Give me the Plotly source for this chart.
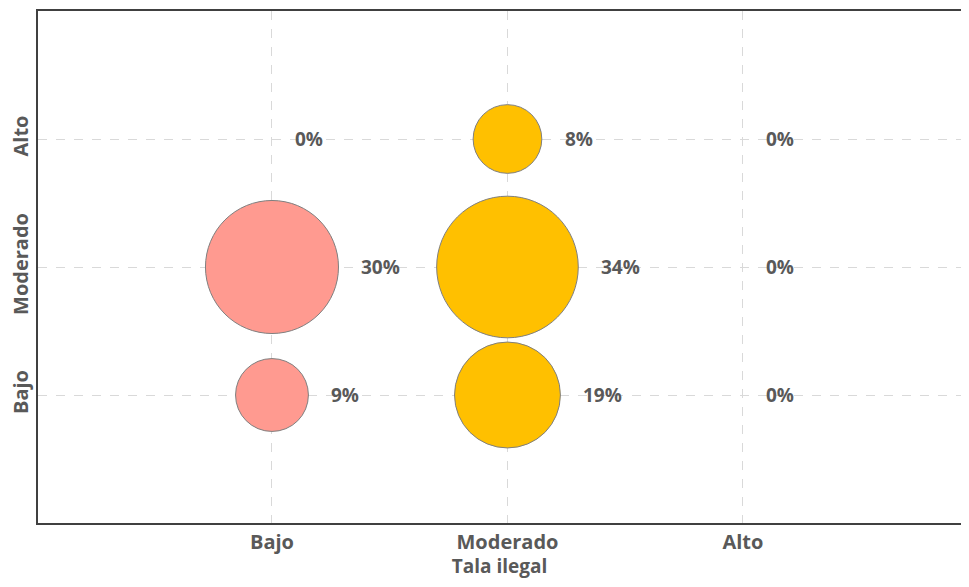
import plotly.graph_objects as go
import math

niveles = ["Bajo", "Moderado", "Alto"]
# tala ilegal (x) vs nivel (y), porcentaje
tala_x = [1, 1, 1, 2, 2, 2, 3, 3, 3]
nivel_y = [1, 2, 3, 1, 2, 3, 1, 2, 3]
porcentaje = [9, 30, 0, 19, 34, 8, 0, 0, 0]
colores = ["#FF9A90", "#FF9A90", "#FF9A90",
           "#FFC000", "#FFC000", "#FFC000",
           "#FFC000", "#FFC000", "#FFC000"]

sizeref = 0.00339
gris = "#595959"
fuente = "Open Sans"

fig = go.Figure()
fig.add_trace(go.Scatter(
    x=tala_x, y=nivel_y, mode="markers",
    marker=dict(size=porcentaje, sizemode="area", sizeref=sizeref,
                color=colores, line=dict(color="#7F7F7F", width=1), opacity=1),
    hoverinfo="skip", showlegend=False))

for xv, yv, p in zip(tala_x, nivel_y, porcentaje):
    radio = math.sqrt(p / (2 * sizeref))
    fig.add_annotation(x=xv, y=yv, text=f"<b>{p}%</b>", showarrow=False,
                       xanchor="left", yanchor="middle", xshift=radio + 21,
                       font=dict(family=fuente, size=19, color=gris))

fig.update_xaxes(range=[0.0064, 3.926], tickvals=[1, 2, 3], ticktext=[f"<b>{n}</b>" for n in niveles],
                 showgrid=True, gridcolor="#D9D9D9", griddash="dash", gridwidth=1,
                 zeroline=False, showline=True, linecolor="#404040", linewidth=1.5, mirror=True,
                 ticks="", tickfont=dict(family=fuente, size=20, color=gris), automargin=False,
                 title=dict(text="<b>Tala ilegal</b>", font=dict(family=fuente, size=19, color=gris), standoff=2))
fig.update_yaxes(range=[0, 4], tickvals=[1, 2, 3], ticktext=[f"<b>{n}</b>" for n in niveles],
                 tickangle=-90, automargin=False,
                 showgrid=True, gridcolor="#D9D9D9", griddash="dash", gridwidth=1,
                 zeroline=False, showline=True, linecolor="#404040", linewidth=1.5, mirror=True,
                 ticks="", tickfont=dict(family=fuente, size=20, color=gris))

# la pagina tiene 8px de margen, asi que el grafico se ajusta para caber sin barras
fig.update_layout(width=953, height=571, margin=dict(l=30, r=0, t=3, b=56),
                  plot_bgcolor="white", paper_bgcolor="white")
fig.write_html("out.html")
